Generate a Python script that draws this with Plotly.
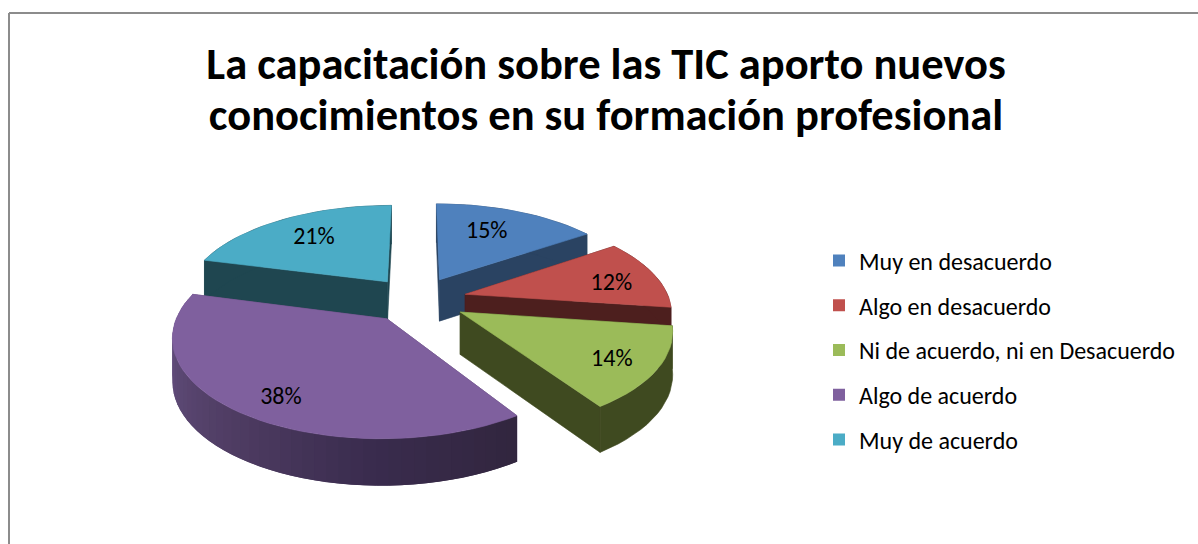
import math
import plotly.graph_objects as go

# ---- data ----
categories = ["Muy en desacuerdo", "Algo en desacuerdo", "Ni de acuerdo, ni en Desacuerdo", "Algo de acuerdo", "Muy de acuerdo"]
values = [15.4, 11.8, 13.5, 38.4, 20.9]
title_lines = ["La capacitación sobre las TIC aporto nuevos", "conocimientos en su formación profesional"]

# ---- styles ----
top_colors = ["#4f81bd", "#c0504d", "#9bbb59", "#7f609e", "#4bacc6"]
side_colors = ["#2a4362", "#4d1f1e", "#3f4a20", "#5a4672", "#1f4650"]
label_frac = [0.44, 0.60, 0.55, 0.47, 0.50]
label_radius = [0.66, 0.75, 0.80, 0.82, 0.68]
FONT = "Carlito, Lato, sans-serif"
CX, CY, R, K, P, EXPLODE, H = 417, 299.5, 204, 0.46, 0.16, 0.245, 42
draw_order = [4, 0, 1, 2, 3]


def project(x, y, z=0.0):
    s = 1.0 / (1.0 - P * y)
    return CX + R * x * s, CY + R * K * y * s + z * H * (1 + (s - 1) * 0.5)


def pt(theta, r, mid, z=0.0):
    x = EXPLODE * math.sin(mid) + r * math.sin(theta)
    y = -(EXPLODE * math.cos(mid) + r * math.cos(theta))
    return project(x, y, z)


def poly(points, color):
    xs = [p[0] for p in points] + [points[0][0]]
    ys = [p[1] for p in points] + [points[0][1]]
    return go.Scatter(x=xs, y=ys, mode="lines", fill="toself", fillcolor=color,
                      line=dict(color=color, width=0.6), showlegend=False, hoverinfo="skip")


def lerp_hex(stops, t):
    t = max(0.0, min(1.0, t)) * (len(stops) - 1)
    i = min(int(t), len(stops) - 2)
    f = t - i
    a, b = stops[i], stops[i + 1]
    return "rgb(%d,%d,%d)" % tuple(
        int(a[j] + (b[j] - a[j]) * f) for j in range(3))


purple_ramp = [(50, 38, 63), (58, 44, 78), (78, 60, 98), (94, 74, 118), (112, 88, 140)]

fig = go.Figure()
total = sum(values)
angles = []
acc = 0.0
for v in values:
    angles.append((acc / total * 2 * math.pi, (acc + v) / total * 2 * math.pi))
    acc += v

for i in draw_order:
    a0, a1 = angles[i]
    mid = (a0 + a1) / 2
    n = max(8, int((a1 - a0) / 0.05))
    arc = [a0 + (a1 - a0) * j / n for j in range(n + 1)]
    # cut faces
    fig.add_trace(poly([pt(a0, 0, mid), pt(a0, 1, mid), pt(a0, 1, mid, 1), pt(a0, 0, mid, 1)], side_colors[i]))
    fig.add_trace(poly([pt(a1, 0, mid), pt(a1, 1, mid), pt(a1, 1, mid, 1), pt(a1, 0, mid, 1)], side_colors[i]))
    # rim
    if i == 3:
        for j in range(n - 1, -1, -1):
            col = lerp_hex(purple_ramp, j / (n - 1))
            end = arc[j + 1]
            start = arc[max(j - 1, 0)]
            fig.add_trace(go.Scatter(
                x=[pt(start, 1, mid)[0], pt(end, 1, mid)[0], pt(end, 1, mid, 1)[0], pt(start, 1, mid, 1)[0], pt(start, 1, mid)[0]],
                y=[pt(start, 1, mid)[1], pt(end, 1, mid)[1], pt(end, 1, mid, 1)[1], pt(start, 1, mid, 1)[1], pt(start, 1, mid)[1]],
                mode="lines", fill="toself", fillcolor=col, line=dict(width=0),
                showlegend=False, hoverinfo="skip"))
    else:
        fig.add_trace(poly([pt(t, 1, mid) for t in arc] + [pt(t, 1, mid, 1) for t in reversed(arc)], side_colors[i]))
    # top
    fig.add_trace(poly([pt(a0, 0, mid)] + [pt(t, 1, mid) for t in arc], top_colors[i]))

# percentage labels
lx, ly, lt = [], [], []
for i, v in enumerate(values):
    a0, a1 = angles[i]
    mid = (a0 + a1) / 2
    x, y = pt(a0 + (a1 - a0) * label_frac[i], label_radius[i], mid)
    lx.append(x); ly.append(y); lt.append(f"{round(v)}%")
fig.add_trace(go.Scatter(x=lx, y=ly, text=lt, mode="text", textposition="middle center",
                         textfont=dict(family=FONT, size=24, color="#000000"),
                         showlegend=False, hoverinfo="skip"))

# legend entries
for name, col in zip(categories, top_colors):
    fig.add_trace(go.Scatter(x=[None], y=[None], mode="markers", name=name, legendgroup=name,
                             marker=dict(symbol="square", size=14, color=col)))

title_text = "<br>".join(f"<span style='font-size:44.5px'>{t}</span>" for t in title_lines)
fig.update_layout(
    width=1198, height=544, margin=dict(l=0, r=0, t=0, b=0),
    paper_bgcolor="#ffffff", plot_bgcolor="#ffffff",
    title=dict(text=title_text, x=606 / 1198, xanchor="center", y=1 - 79 / 544, yanchor="top",
               font=dict(family=FONT, size=39.5, color="#000000", weight="bold")),
    xaxis=dict(range=[0, 1198], visible=False, fixedrange=True, domain=[0, 1]),
    yaxis=dict(range=[544, 0], visible=False, fixedrange=True, domain=[0, 1]),
    legend=dict(x=819 / 1198, xanchor="left", y=1 - 238.5 / 544, yanchor="top",
                font=dict(family=FONT, size=24, color="#000000"),
                tracegroupgap=10.5, itemsizing="constant", bgcolor="rgba(0,0,0,0)"),
    shapes=[
        dict(type="line", xref="paper", yref="paper", x0=9 / 1198, x1=1, y0=1 - 13 / 544, y1=1 - 13 / 544,
             line=dict(color="#8c8c8c", width=2)),
        dict(type="line", xref="paper", yref="paper", x0=9 / 1198, x1=9 / 1198, y0=0, y1=1 - 13 / 544,
             line=dict(color="#8c8c8c", width=2)),
    ],
)
fig.write_html("out.html", config={"displayModeBar": False},
               post_script="document.body.style.margin='0';document.body.style.overflow='hidden';")
